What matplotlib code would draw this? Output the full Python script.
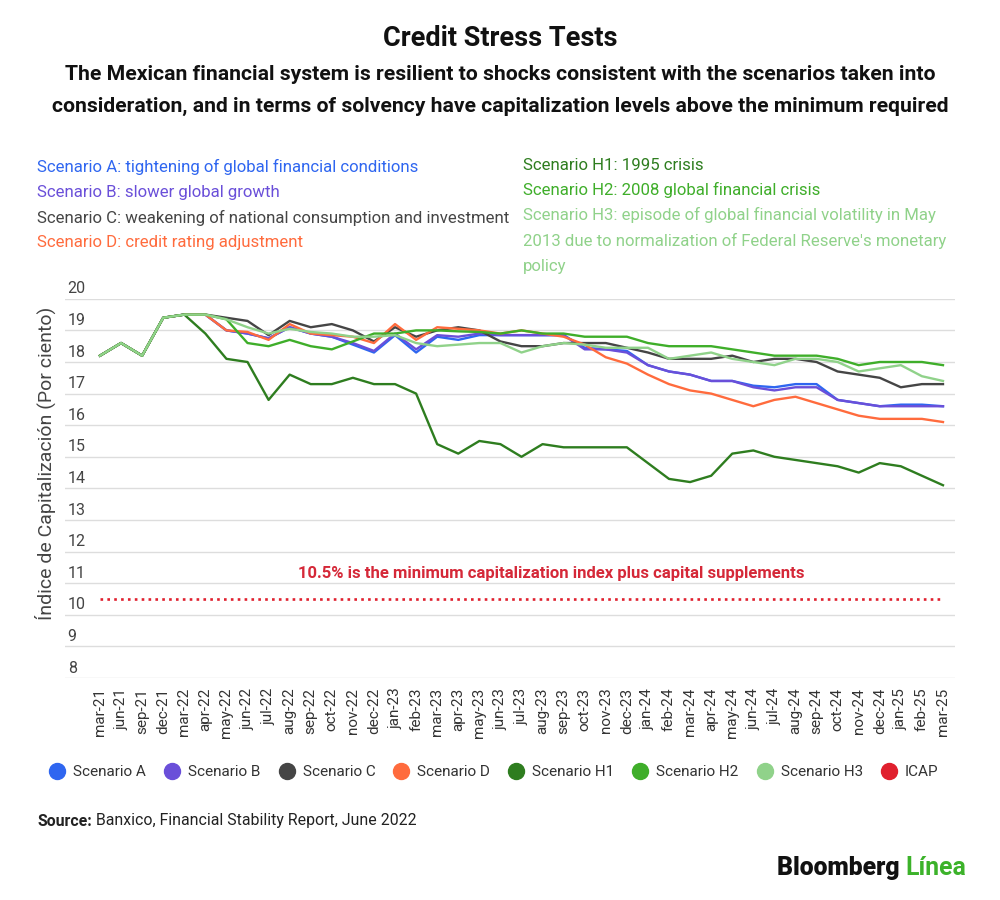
import matplotlib
matplotlib.use("Agg")
import matplotlib.pyplot as plt
from matplotlib.lines import Line2D
import matplotlib.transforms as mtransforms

plt.rcParams['font.family'] = ['Roboto', 'DejaVu Sans']

dates = ["mar-21", "jun-21", "sep-21", "dec-21", "mar-22", "apr-22", "may-22", "jun-22", "jul-22",
         "aug-22", "sep-22", "oct-22", "nov-22", "dec-22", "jan-23", "feb-23", "mar-23", "apr-23",
         "may-23", "jun-23", "jul-23", "aug-23", "sep-23", "oct-23", "nov-23", "dec-23", "jan-24",
         "feb-24", "mar-24", "apr-24", "may-24", "jun-24", "jul-24", "aug-24", "sep-24", "oct-24",
         "nov-24", "dec-24", "jan-25", "feb-25", "mar-25"]

scen_a = [18.2, 18.6, 18.2, 19.4, 19.5, 19.5, 19.0, 18.9, 18.75, 19.1, 18.9, 18.8, 18.55, 18.3,
          18.85, 18.3, 18.8, 18.7, 18.85, 18.85, 18.85, 18.85, 18.85, 18.45, 18.4, 18.35, 17.9,
          17.7, 17.6, 17.4, 17.4, 17.25, 17.2, 17.3, 17.3, 16.8, 16.7, 16.6, 16.65, 16.65, 16.6]
scen_b = [18.2, 18.6, 18.2, 19.4, 19.5, 19.5, 19.0, 18.9, 18.75, 19.1, 18.9, 18.8, 18.6, 18.35,
          18.9, 18.4, 18.85, 18.8, 18.9, 18.85, 18.85, 18.85, 18.85, 18.4, 18.4, 18.3, 17.9,
          17.7, 17.6, 17.4, 17.4, 17.2, 17.1, 17.2, 17.2, 16.8, 16.7, 16.6, 16.6, 16.6, 16.6]
scen_c = [18.2, 18.6, 18.2, 19.4, 19.5, 19.5, 19.4, 19.3, 18.85, 19.3, 19.1, 19.2, 19.0, 18.65,
          19.1, 18.8, 19.0, 19.1, 19.0, 18.65, 18.5, 18.5, 18.6, 18.6, 18.6, 18.45, 18.3,
          18.1, 18.1, 18.1, 18.2, 18.0, 18.1, 18.1, 18.0, 17.7, 17.6, 17.5, 17.2, 17.3, 17.3]
scen_d = [18.2, 18.6, 18.2, 19.4, 19.5, 19.5, 19.0, 18.95, 18.7, 19.2, 18.9, 18.85, 18.8, 18.6,
          19.2, 18.7, 19.1, 19.05, 19.0, 18.9, 19.0, 18.9, 18.8, 18.55, 18.15, 17.95, 17.6,
          17.3, 17.1, 17.0, 16.8, 16.6, 16.8, 16.9, 16.7, 16.5, 16.3, 16.2, 16.2, 16.2, 16.1]
scen_h1 = [18.2, 18.6, 18.2, 19.4, 19.5, 18.9, 18.1, 18.0, 16.8, 17.6, 17.3, 17.3, 17.5, 17.3,
           17.3, 17.0, 15.4, 15.1, 15.5, 15.4, 15.0, 15.4, 15.3, 15.3, 15.3, 15.3, 14.8,
           14.3, 14.2, 14.4, 15.1, 15.2, 15.0, 14.9, 14.8, 14.7, 14.5, 14.8, 14.7, 14.4, 14.1]
scen_h2 = [18.2, 18.6, 18.2, 19.4, 19.5, 19.5, 19.35, 18.6, 18.5, 18.7, 18.5, 18.4, 18.65, 18.9,
           18.9, 19.0, 19.0, 18.97, 18.95, 18.9, 19.0, 18.9, 18.9, 18.8, 18.8, 18.8, 18.6,
           18.5, 18.5, 18.5, 18.4, 18.3, 18.2, 18.2, 18.2, 18.1, 17.9, 18.0, 18.0, 18.0, 17.9]
scen_h3 = [18.2, 18.6, 18.2, 19.4, 19.5, 19.5, 19.35, 19.1, 18.9, 19.05, 18.95, 18.9, 18.8, 18.8,
           18.85, 18.6, 18.5, 18.55, 18.6, 18.6, 18.3, 18.5, 18.6, 18.55, 18.45, 18.45, 18.45,
           18.1, 18.2, 18.3, 18.1, 18.0, 17.9, 18.1, 18.1, 18.0, 17.7, 17.8, 17.9, 17.55, 17.4]
icap_min = 10.5

names = ["Scenario A", "Scenario B", "Scenario C", "Scenario D",
         "Scenario H1", "Scenario H2", "Scenario H3", "ICAP"]
colors = ["#2f66f0", "#6a4fd9", "#454545", "#ff6b3d", "#2e7d1f", "#3fae2a", "#90d28a", "#e0202e"]
series = [scen_a, scen_b, scen_c, scen_d, scen_h1, scen_h2, scen_h3]

notes_left = ["Scenario A: tightening of global financial conditions",
              "Scenario B: slower global growth",
              "Scenario C: weakening of national consumption and investment",
              "Scenario D: credit rating adjustment"]
notes_right = ["Scenario H1: 1995 crisis",
               "Scenario H2: 2008 global financial crisis",
               "Scenario H3: episode of global financial volatility in May",
               "2013 due to normalization of Federal Reserve's monetary",
               "policy"]
notes_right_colors = [colors[4], colors[5], colors[6], colors[6], colors[6]]

fig = plt.figure(figsize=(10, 9), dpi=100)
ax = fig.add_axes([0.065, 0.2467, 0.89, 0.4213])

x = list(range(len(dates)))
for vals, col in zip(series, colors):
    ax.plot(x, vals, color=col, lw=1.7, solid_joinstyle='round')
ax.hlines(icap_min, x[0], x[-1], color=colors[7], lw=1.9, linestyle=(0, (1, 1.6)))
ax.text(21.4, 11.3, "10.5% is the minimum capitalization index plus capital supplements",
        color="#d52838", fontsize=12, fontweight='bold', ha='center', va='center')

ax.set_xlim(-1.66, 40.57)
ax.set_ylim(8, 20)
yt = list(range(8, 21))
ax.set_yticks(yt)
ax.set_yticklabels([])
ax.tick_params(axis='y', length=0)
ax.grid(axis='y', color='#dddddd', lw=1)
ax.set_axisbelow(True)
for s in ax.spines.values():
    s.set_visible(False)
trans = mtransforms.blended_transform_factory(ax.transAxes, ax.transData)
for v in yt:
    ax.text(0.003, v + 0.17, str(v), transform=trans, fontsize=11.5, color='#444444',
            ha='left', va='baseline')

ax.set_xticks(x)
ax.set_xticklabels(dates, rotation=90, fontsize=11, color='#333333')
ax.tick_params(axis='x', length=0, pad=7)

fig.text(0.045, 1 - 463 / 900, "Índice de Capitalización (Por ciento)", rotation=90,
         fontsize=14, color='#444444', ha='center', va='center')

fig.text(0.5, 1 - 38 / 900, "Credit Stress Tests", fontsize=19.5, fontweight='bold',
         ha='center', va='center', color='#111111')
fig.text(0.5, 1 - 75 / 900, "The Mexican financial system is resilient to shocks consistent with the scenarios taken into",
         fontsize=15.2, fontweight='bold', ha='center', va='center', color='#111111')
fig.text(0.5, 1 - 106 / 900, "consideration, and in terms of solvency have capitalization levels above the minimum required",
         fontsize=15.2, fontweight='bold', ha='center', va='center', color='#111111')

left_y = [167, 192, 218, 243]
for txt, col, yy in zip(notes_left, colors[:4], left_y):
    fig.text(0.037, 1 - yy / 900, txt, fontsize=12.1, color=col, ha='left', va='center')
right_y = [165, 190, 215, 241, 266]
for txt, col, yy in zip(notes_right, notes_right_colors, right_y):
    fig.text(0.523, 1 - yy / 900, txt, fontsize=12.1, color=col, ha='left', va='center')

handles = [Line2D([], [], marker='o', ls='none', markersize=11.5, color=c) for c in colors]
fig.legend(handles, names, loc='center', bbox_to_anchor=(0.494, 1 - 772 / 900), ncol=8,
           frameon=False, fontsize=11, handlelength=1.0, handletextpad=0.55,
           columnspacing=1.2, labelcolor='#333333')

src = fig.text(0.037, 1 - 821 / 900, "Source:", fontsize=11.4, fontweight='bold',
               color='#222222', ha='left', va='center')
ax.annotate(" Banxico, Financial Stability Report, June 2022", xy=(1, 0.5), xycoords=src,
            fontsize=11.4, color='#222222', ha='left', va='center', annotation_clip=False)

lin = fig.text(0.966, 1 - 868 / 900, "Línea", fontsize=17.8, fontweight='bold',
               color='#3cb22a', ha='right', va='center')
ax.annotate("Bloomberg ", xy=(0, 0.5), xycoords=lin, fontsize=17.8, fontweight='heavy',
            color='#111111', ha='right', va='center', annotation_clip=False)

fig.savefig("out.png", dpi=100, facecolor='white')
